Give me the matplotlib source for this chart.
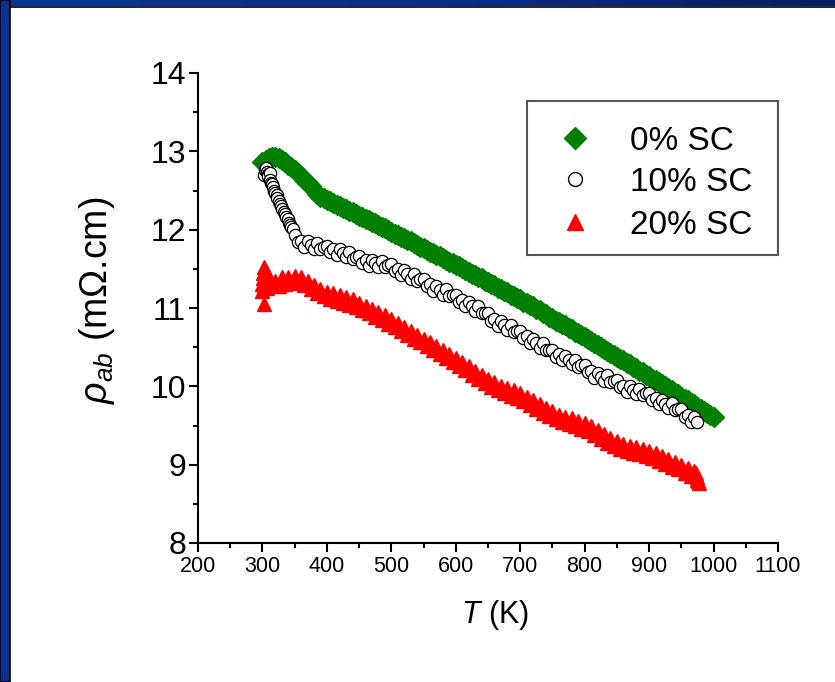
import numpy as np
import matplotlib
matplotlib.use("Agg")
import matplotlib.pyplot as plt
from matplotlib.patches import Rectangle
from matplotlib.lines import Line2D
from matplotlib.colors import LinearSegmentedColormap

plt.rcParams['font.family'] = ['Liberation Sans', 'DejaVu Sans']
plt.rcParams['mathtext.fontset'] = 'custom'
plt.rcParams['mathtext.rm'] = 'Liberation Sans'
plt.rcParams['mathtext.it'] = 'Liberation Sans:italic'

# ---------------- data ----------------
green_T = np.arange(300, 1001, 5)
green_rho = [
    12.87, 12.89, 12.91, 12.93, 12.93, 12.91, 12.89, 12.86, 12.83, 12.80,
    12.76, 12.72, 12.68, 12.64, 12.60, 12.56, 12.51, 12.46, 12.42, 12.40,
    12.38, 12.36, 12.34, 12.32, 12.30, 12.28, 12.26, 12.24, 12.22, 12.20,
    12.18, 12.16, 12.14, 12.12, 12.10, 12.08, 12.06, 12.04, 12.02, 11.99,
    11.97, 11.95, 11.93, 11.91, 11.89, 11.87, 11.85, 11.83, 11.81, 11.78,
    11.76, 11.74, 11.72, 11.70, 11.68, 11.66, 11.64, 11.61, 11.59, 11.57,
    11.55, 11.53, 11.51, 11.48, 11.46, 11.44, 11.42, 11.40, 11.38, 11.35,
    11.33, 11.31, 11.29, 11.26, 11.24, 11.22, 11.20, 11.17, 11.15, 11.13,
    11.11, 11.08, 11.06, 11.04, 11.02, 10.99, 10.97, 10.94, 10.92, 10.89,
    10.87, 10.84, 10.82, 10.80, 10.78, 10.75, 10.73, 10.70, 10.68, 10.65,
    10.63, 10.60, 10.58, 10.55, 10.53, 10.50, 10.48, 10.45, 10.43, 10.40,
    10.38, 10.35, 10.33, 10.30, 10.28, 10.25, 10.23, 10.20, 10.18, 10.15,
    10.13, 10.10, 10.08, 10.05, 10.03, 10.00, 9.98, 9.95, 9.92, 9.90,
    9.87, 9.84, 9.82, 9.79, 9.77, 9.74, 9.71, 9.69, 9.66, 9.63,
    9.61,
]

circ_T_start = [302, 304, 305, 307, 308, 309, 311, 312, 313, 315, 317, 318, 320, 322,
                323, 325, 327, 329, 331, 333, 335, 337, 339, 341, 343, 345, 347]
circ_rho_start = [12.70, 12.76, 12.79, 12.74, 12.71, 12.68, 12.72, 12.64, 12.60, 12.58,
                  12.55, 12.50, 12.47, 12.44, 12.40, 12.36, 12.33, 12.30, 12.26, 12.23,
                  12.20, 12.16, 12.13, 12.09, 12.06, 12.04, 12.01]
circ_T = np.arange(350, 976, 5)
circ_rho = [
    11.93, 11.84, 11.86, 11.78, 11.85, 11.80, 11.75, 11.83, 11.75, 11.78,
    11.79, 11.71, 11.75, 11.68, 11.75, 11.70, 11.65, 11.72, 11.63, 11.65,
    11.66, 11.58, 11.61, 11.54, 11.61, 11.57, 11.52, 11.60, 11.52, 11.55,
    11.56, 11.47, 11.50, 11.42, 11.48, 11.43, 11.37, 11.44, 11.35, 11.37,
    11.37, 11.28, 11.30, 11.22, 11.28, 11.23, 11.17, 11.24, 11.15, 11.17,
    11.17, 11.08, 11.10, 11.02, 11.08, 11.02, 10.96, 11.02, 10.93, 10.94,
    10.94, 10.84, 10.86, 10.77, 10.83, 10.78, 10.72, 10.78, 10.69, 10.71,
    10.71, 10.62, 10.64, 10.55, 10.61, 10.55, 10.49, 10.55, 10.46, 10.47,
    10.47, 10.38, 10.41, 10.33, 10.39, 10.34, 10.28, 10.34, 10.25, 10.27,
    10.27, 10.18, 10.20, 10.11, 10.17, 10.12, 10.07, 10.14, 10.05, 10.07,
    10.08, 9.99, 10.01, 9.93, 10.00, 9.95, 9.90, 9.97, 9.89, 9.91,
    9.92, 9.83, 9.85, 9.77, 9.83, 9.78, 9.72, 9.79, 9.70, 9.71,
    9.71, 9.61, 9.63, 9.55, 9.61, 9.55,
]

red_T_start = [300, 300, 301, 301, 302, 302, 303, 304, 305, 306, 307, 308]
red_rho_start = [11.22, 11.30, 11.45, 11.38, 11.52, 11.28, 11.05, 11.40, 11.32, 11.47, 11.26, 11.38]
red_T = np.arange(310, 976, 5)
red_rho = [
    11.34, 11.29, 11.34, 11.28, 11.40, 11.31, 11.40, 11.33, 11.41, 11.32,
    11.39, 11.29, 11.34, 11.24, 11.29, 11.19, 11.24, 11.15, 11.21, 11.12,
    11.19, 11.09, 11.16, 11.07, 11.14, 11.04, 11.11, 11.01, 11.07, 10.97,
    11.03, 10.93, 10.99, 10.89, 10.95, 10.85, 10.91, 10.80, 10.86, 10.76,
    10.81, 10.71, 10.76, 10.66, 10.71, 10.61, 10.66, 10.56, 10.61, 10.51,
    10.56, 10.46, 10.51, 10.41, 10.46, 10.36, 10.41, 10.31, 10.36, 10.26,
    10.31, 10.21, 10.26, 10.15, 10.20, 10.10, 10.15, 10.04, 10.09, 9.99,
    10.05, 9.95, 10.01, 9.91, 9.98, 9.88, 9.95, 9.85, 9.91, 9.81,
    9.87, 9.76, 9.82, 9.71, 9.77, 9.66, 9.72, 9.62, 9.68, 9.58,
    9.64, 9.54, 9.61, 9.52, 9.59, 9.49, 9.56, 9.46, 9.53, 9.43,
    9.49, 9.38, 9.44, 9.33, 9.39, 9.28, 9.34, 9.24, 9.30, 9.20,
    9.26, 9.17, 9.24, 9.15, 9.22, 9.13, 9.20, 9.11, 9.18, 9.08,
    9.15, 9.05, 9.11, 9.01, 9.07, 8.97, 9.04, 8.94, 9.00, 8.90,
    8.96, 8.86, 8.92, 8.80,
]
red_T_end = [972, 974, 976, 978]
red_rho_end = [8.90, 8.84, 8.79, 8.76]

labels = ['0% SC', '10% SC', '20% SC']
x_ticks = [200, 300, 400, 500, 600, 700, 800, 900, 1000, 1100]
y_ticks = [8, 9, 10, 11, 12, 13, 14]

# ---------------- figure ----------------
W, H = 835, 682
fig = plt.figure(figsize=(W / 100, H / 100), dpi=100)
ax = fig.add_axes([198 / W, 139 / H, (778 - 198) / W, (543 - 73) / H])

GREEN, RED = '#008000', '#ff0000'
ax.plot(green_T, green_rho, ls='none', marker='D', ms=10, mfc=GREEN, mec=GREEN, zorder=3)
ax.plot(np.concatenate([circ_T_start, circ_T]), circ_rho_start + circ_rho, ls='none', marker='o',
        ms=8.8, mfc='white', mec='black', mew=0.9, zorder=4)
ax.plot(np.concatenate([red_T_start, red_T, red_T_end]), red_rho_start + red_rho + red_rho_end,
        ls='none', marker='^', ms=10.5, mfc=RED, mec=RED, zorder=3)

ax.set_xlim(200, 1100)
ax.set_ylim(8, 14)
ax.set_xticks(x_ticks)
ax.set_yticks(y_ticks)
ax.set_xticks(np.arange(250, 1100, 100), minor=True)
ax.set_yticks(np.arange(8.5, 14, 1.0), minor=True)
for s in ['top', 'right']:
    ax.spines[s].set_visible(False)
for s in ['left', 'bottom']:
    ax.spines[s].set_linewidth(1.5)
ax.tick_params(axis='both', which='major', direction='out', length=6.5, width=1.5)
ax.tick_params(axis='both', which='minor', direction='out', length=3.5, width=1.5)
ax.tick_params(axis='x', which='major', labelsize=15.5, pad=3)
ax.tick_params(axis='y', which='major', labelsize=23, pad=2)

ax.set_xlabel(r'$T$ (K)', fontsize=22, labelpad=15)
ax.xaxis.label.set_x((495 - 198) / 580)
ax.set_ylabel(r'$\rho_{ab}$ (mΩ.cm)', fontsize=27, labelpad=24)
ax.yaxis.label.set_y((543 - 300) / 470)

# legend (drawn in figure pixel positions)
def fx(px):
    return px / W

def fy(py):
    return 1 - py / H

fig.add_artist(Rectangle((fx(527), fy(255)), (778 - 527) / W, (255 - 101) / H,
                         transform=fig.transFigure, facecolor='white', edgecolor='#555555',
                         lw=1.5, zorder=5))
leg_y = [138, 179, 222]
leg_style = [
    dict(marker='D', ms=11, mfc=GREEN, mec=GREEN),
    dict(marker='o', ms=10, mfc='white', mec='black', mew=1),
    dict(marker='^', ms=11, mfc=RED, mec=RED),
]
for lab, yy, st in zip(labels, leg_y, leg_style):
    fig.add_artist(Line2D([fx(575)], [fy(yy)], ls='none', transform=fig.transFigure, zorder=6, **st))
    fig.text(fx(630), fy(yy), lab, fontsize=24, ha='left', va='center_baseline', zorder=6)

# navy frame around the figure (left and top)
cmap = LinearSegmentedColormap.from_list('navy', ['#0b3592', '#0a2f86', '#06215e'])
top_ax = fig.add_axes([0, 1 - 6 / H, 1, 6 / H], zorder=10)
top_ax.imshow(np.linspace(0, 1, 256)[None, :], aspect='auto', cmap=cmap, extent=(0, 1, 0, 1))
top_ax.set_axis_off()
fig.add_artist(Line2D([0, 1], [1 - 6.5 / H, 1 - 6.5 / H], transform=fig.transFigure,
                      color='black', lw=1.2, zorder=11))
fig.add_artist(Rectangle((0, 0), 10 / W, 1, transform=fig.transFigure,
                         facecolor='#0b3290', edgecolor='black', lw=1.2, zorder=12))

fig.savefig('out.png', dpi=100)
